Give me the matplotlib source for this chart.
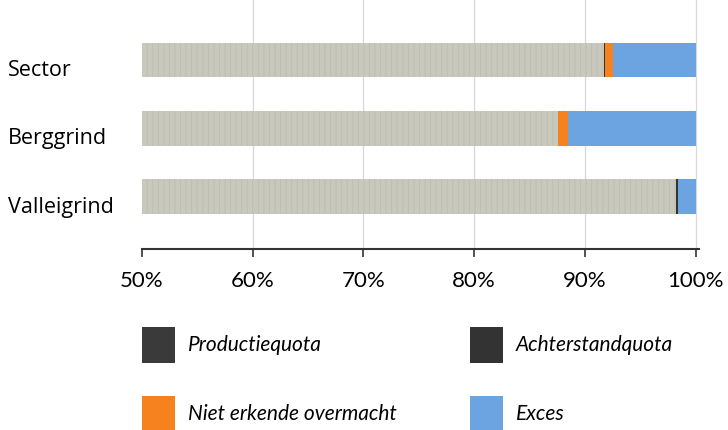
import numpy as np
import matplotlib
matplotlib.use('Agg')
import matplotlib.pyplot as plt
import matplotlib.transforms as mtransforms
from matplotlib.patches import Patch

categorieen = ['Valleigrind', 'Berggrind', 'Sector']
productiequota = [98.2, 87.6, 91.7]
achterstandquota = [0.2, 0.0, 0.1]
niet_erkend = [0.0, 0.9, 0.7]
exces = [1.6, 11.5, 7.5]

reeksen = ['Productiequota', 'Achterstandquota', 'Niet erkende overmacht', 'Exces']
kleuren = ['#c8c8bc', '#333333', '#f5821f', '#6ba4e0']
legend_kleuren = ['#3a3a3a', '#333333', '#f5821f', '#6ba4e0']
xticks = [50, 60, 70, 80, 90, 100]

plt.rcParams['hatch.linewidth'] = 0.6

fig = plt.figure(figsize=(7.28, 4.30), dpi=100)
ax = fig.add_axes([142 / 728, 1 - 249 / 430, (699 - 142) / 728, 249 / 430])

y = np.arange(len(categorieen))
links = np.zeros(len(categorieen))
for waarden, kleur in zip([productiequota, achterstandquota, niet_erkend, exces], kleuren):
    ax.barh(y, waarden, left=links, height=0.51, color=kleur, linewidth=0, zorder=2)
    links += np.array(waarden)

# lichte streep-textuur op de grijze balken
ax.barh(y, productiequota, height=0.51, color='none', edgecolor='#bcbcb0',
        hatch='|||', linewidth=0, zorder=2.5)

ax.set_xlim(50, 100.3)
ax.set_ylim(-0.76, 2.876)
ax.set_xticks(xticks)
ax.set_xticklabels([f'{t}%' for t in xticks], fontsize=16, family='Lato')
ax.tick_params(axis='x', length=6, width=1.2, color='#333333', pad=10)
for t in xticks[1:]:
    ax.axvline(t, color='#d8d8d8', linewidth=0.9, zorder=1)

ax.set_yticks(y)
ax.set_yticklabels(categorieen, fontsize=15.5, family='Open Sans', ha='left')
ax.tick_params(axis='y', length=0, pad=134 / 1.389)
verschuiving = mtransforms.ScaledTranslation(0, -8 / 100, fig.dpi_scale_trans)
for lbl in ax.get_yticklabels():
    lbl.set_transform(lbl.get_transform() + verschuiving)

for s in ['top', 'right', 'left']:
    ax.spines[s].set_visible(False)
ax.spines['bottom'].set_color('#333333')
ax.spines['bottom'].set_linewidth(1.5)

fs = 15
handles = [Patch(facecolor=c, edgecolor='none') for c in legend_kleuren]
opts = dict(loc='upper left', frameon=False, handlelength=1.6, handleheight=2.26,
            handletextpad=0.6, labelspacing=1.58, borderpad=0, borderaxespad=0,
            prop={'family': 'Lato', 'style': 'italic', 'size': fs})
fig.legend([handles[0], handles[2]], [reeksen[0], reeksen[2]],
           bbox_to_anchor=(142 / 728, 1 - 327 / 430), **opts)
fig.legend([handles[1], handles[3]], [reeksen[1], reeksen[3]],
           bbox_to_anchor=(470 / 728, 1 - 327 / 430), **opts)

fig.savefig('out.png', dpi=100)
